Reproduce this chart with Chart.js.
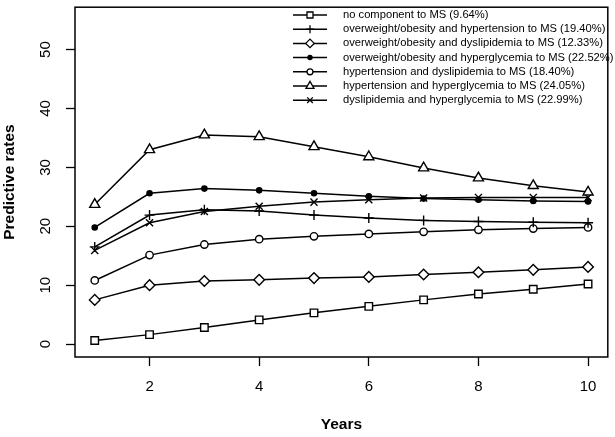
<!DOCTYPE html>
<html lang="en">
<head>
<meta charset="UTF-8">
<title>Predictive rates</title>
<script src="https://cdn.jsdelivr.net/npm/chart.js@4.4.0/dist/chart.umd.min.js"></script>
<style>
    html, body { margin: 0; padding: 0; background: #fff; }
    #chart-container { width: 615px; height: 437px; }
</style>
</head>
<body>
<div id="chart-container">
    <canvas id="chart"></canvas>
</div>
<script type="text/javascript">
    // data
    const years = [1, 2, 3, 4, 5, 6, 7, 8, 9, 10];
    const xTicks = [2, 4, 6, 8, 10];
    const yTicks = [0, 10, 20, 30, 40, 50];

    const noComponent = [0.6, 1.6, 2.8, 4.1, 5.3, 6.4, 7.5, 8.5, 9.3, 10.2];
    const owHypertension = [16.5, 21.9, 22.8, 22.6, 21.9, 21.4, 21.0, 20.8, 20.7, 20.6];
    const owDyslipidemia = [7.5, 10.0, 10.7, 10.9, 11.2, 11.4, 11.8, 12.2, 12.6, 13.1];
    const owHyperglycemia = [19.8, 25.6, 26.4, 26.1, 25.6, 25.1, 24.7, 24.5, 24.3, 24.2];
    const htDyslipidemia = [10.8, 15.1, 16.9, 17.8, 18.3, 18.7, 19.05, 19.4, 19.6, 19.8];
    const htHyperglycemia = [23.7, 33.0, 35.5, 35.2, 33.5, 31.8, 29.9, 28.2, 26.9, 25.8];
    const dlHyperglycemia = [15.9, 20.6, 22.5, 23.4, 24.1, 24.5, 24.8, 24.9, 24.9, 24.9];

    const FONT = '"Liberation Sans", Arial, Helvetica, sans-serif';

    function series(label, values, style, radius, fill) {
        return {
            label: label,
            data: values.map((v, i) => ({x: years[i], y: v})),
            borderColor: '#000',
            borderWidth: 1.5,
            pointStyle: style,
            pointRadius: radius,
            pointHoverRadius: radius,
            pointBorderColor: '#000',
            pointBorderWidth: 1.4,
            pointBackgroundColor: fill || '#fff',
            tension: 0,
            clip: false
        };
    }

    const data = {
        datasets: [
            series('no component to MS (9.64%)', noComponent, 'rect', 5.3),
            series('overweight/obesity and hypertension to MS (19.40%)', owHypertension, 'cross', 5),
            series('overweight/obesity and dyslipidemia to MS (12.33%)', owDyslipidemia, 'rectRot', 5.3),
            series('overweight/obesity and hyperglycemia to MS (22.52%)', owHyperglycemia, 'circle', 2.6, '#000'),
            series('hypertension and dyslipidemia to MS (18.40%)', htDyslipidemia, 'circle', 3.7),
            series('hypertension and hyperglycemia to MS (24.05%)', htHyperglycemia, 'triangle', 5.8),
            series('dyslipidemia and hyperglycemia to MS (22.99%)', dlHyperglycemia, 'crossRot', 5)
        ]
    };

    // R-style frame, rotated y labels and the legend
    const basePlotLook = {
        id: 'basePlotLook',
        afterDraw: (chart) => {
            const {ctx, chartArea} = chart;
            ctx.save();
            ctx.strokeStyle = '#000';
            ctx.lineWidth = 1.5;
            ctx.strokeRect(chartArea.left, chartArea.top, chartArea.right - chartArea.left, chartArea.bottom - chartArea.top);

            const ys = chart.scales.y;
            ctx.fillStyle = '#000';
            ctx.font = '15px ' + FONT;
            ctx.textAlign = 'center';
            ctx.textBaseline = 'middle';
            ys.ticks.forEach(t => {
                ctx.save();
                ctx.translate(45.5, ys.getPixelForValue(t.value));
                ctx.rotate(-Math.PI / 2);
                ctx.fillText(String(t.value), 0, 0);
                ctx.restore();
            });

            ctx.font = '11.2px ' + FONT;
            ctx.textAlign = 'left';
            chart.data.datasets.forEach((ds, i) => {
                const y = 15 + i * 14.2;
                ctx.strokeStyle = '#000';
                ctx.lineWidth = 1.5;
                ctx.beginPath();
                ctx.moveTo(293, y);
                ctx.lineTo(327, y);
                ctx.stroke();
                ctx.fillStyle = ds.pointBackgroundColor;
                ctx.lineWidth = 1.3;
                Chart.helpers.drawPoint(ctx, {pointStyle: ds.pointStyle, radius: ds.pointRadius * 0.8, rotation: 0, borderWidth: 1.3}, 310, y);
                ctx.fillStyle = '#000';
                ctx.fillText(ds.label, 343, y);
            });
            ctx.restore();
        }
    };

    const tickGrid = {
        drawOnChartArea: false,
        drawTicks: true,
        tickLength: 9,
        tickWidth: 1.3,
        tickColor: '#000'
    };

    const config = {
        type: 'line',
        data: data,
        options: {
            responsive: true,
            maintainAspectRatio: false,
            animation: false,
            devicePixelRatio: 1,
            layout: {padding: {top: 2, right: 2, left: 0, bottom: 0}},
            plugins: {
                legend: {display: false},
                tooltip: {enabled: false}
            },
            scales: {
                x: {
                    type: 'linear',
                    min: 0.64,
                    max: 10.36,
                    afterBuildTicks: (s) => { s.ticks = xTicks.map(v => ({value: v})); },
                    afterFit: (s) => { s.height = 80; },
                    grid: tickGrid,
                    border: {display: false},
                    ticks: {
                        color: '#000',
                        font: {family: FONT, size: 15},
                        padding: 12,
                        maxRotation: 0,
                        autoSkip: false
                    },
                    title: {
                        display: true,
                        text: 'Years',
                        color: '#000',
                        font: {family: FONT, size: 15.5, weight: 'bold'},
                        padding: {top: 0, bottom: 3}
                    }
                },
                y: {
                    type: 'linear',
                    min: -2.2,
                    max: 57.2,
                    afterBuildTicks: (s) => { s.ticks = yTicks.map(v => ({value: v})); },
                    afterFit: (s) => { s.width = 75; },
                    grid: tickGrid,
                    border: {display: false},
                    ticks: {display: false},
                    title: {
                        display: true,
                        text: 'Predictive rates',
                        color: '#000',
                        font: {family: FONT, size: 15.5, weight: 'bold'},
                        padding: {top: 0, bottom: 0}
                    }
                }
            }
        },
        plugins: [basePlotLook]
    };

    const canvas = document.getElementById('chart');
    let chart = new Chart(canvas, config);
</script>
</body>
</html>
